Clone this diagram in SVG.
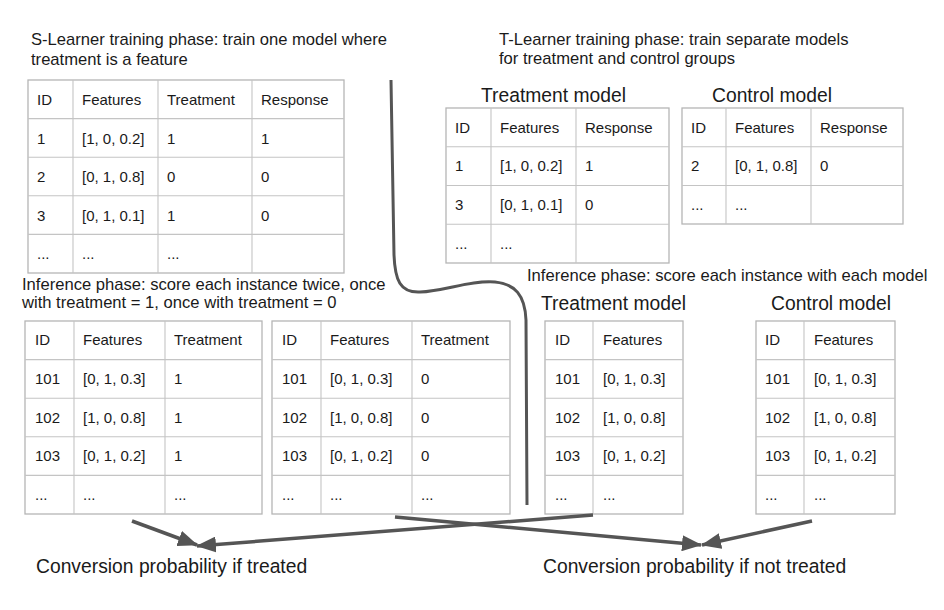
<svg xmlns="http://www.w3.org/2000/svg" width="944" height="610" viewBox="0 0 944 610">
<defs>
<style>
text{font-family:"Liberation Sans",Arial,sans-serif;fill:#1a1a1a}
.t{font-size:16.6px}
.c{font-size:15px}
.h{font-size:19.3px}
.tb{fill:none;stroke:#b5b5b5;stroke-width:1.3}
.ln{stroke:#c4c4c4;stroke-width:1.1}
.arr{fill:none;stroke:#555;stroke-width:3.5;marker-end:url(#ah)}
.crv{fill:none;stroke:#555;stroke-width:3}
</style>
<marker id="ah" markerUnits="userSpaceOnUse" markerWidth="20" markerHeight="16" viewBox="0 0 20 16" refX="19" refY="8" orient="auto">
<path d="M0,0 L20,8 L0,16 z" fill="#555"/>
</marker>
</defs>
<rect width="944" height="610" fill="#fff"/>

<g id="s-title">
<text class="t" x="31" y="45">S-Learner training phase: train one model where</text>
<text class="t" x="31" y="65">treatment is a feature</text>
</g>
<g id="t-title">
<text class="t" x="499" y="45">T-Learner training phase: train separate models</text>
<text class="t" x="499" y="64">for treatment and control groups</text>
</g>

<g id="s-train-table">
<rect class="tb" x="28" y="80" width="316" height="193"/>
<line class="ln" x1="73" y1="80" x2="73" y2="273"/>
<line class="ln" x1="158" y1="80" x2="158" y2="273"/>
<line class="ln" x1="252" y1="80" x2="252" y2="273"/>
<line class="ln" x1="28" y1="118.6" x2="344" y2="118.6"/>
<line class="ln" x1="28" y1="157.2" x2="344" y2="157.2"/>
<line class="ln" x1="28" y1="195.8" x2="344" y2="195.8"/>
<line class="ln" x1="28" y1="234.4" x2="344" y2="234.4"/>
<text class="c" x="37" y="105">ID</text><text class="c" x="82" y="105">Features</text><text class="c" x="167" y="105">Treatment</text><text class="c" x="261" y="105">Response</text>
<text class="c" x="37" y="144">1</text><text class="c" x="82" y="144">[1, 0, 0.2]</text><text class="c" x="167" y="144">1</text><text class="c" x="261" y="144">1</text>
<text class="c" x="37" y="182">2</text><text class="c" x="82" y="182">[0, 1, 0.8]</text><text class="c" x="167" y="182">0</text><text class="c" x="261" y="182">0</text>
<text class="c" x="37" y="221">3</text><text class="c" x="82" y="221">[0, 1, 0.1]</text><text class="c" x="167" y="221">1</text><text class="c" x="261" y="221">0</text>
<text class="c" x="37" y="259">...</text><text class="c" x="82" y="259">...</text><text class="c" x="167" y="259">...</text>
</g>

<g id="t-train-treatment">
<text class="h" x="481" y="102">Treatment model</text>
<rect class="tb" x="446" y="108" width="223" height="155"/>
<line class="ln" x1="491" y1="108" x2="491" y2="263"/>
<line class="ln" x1="576" y1="108" x2="576" y2="263"/>
<line class="ln" x1="446" y1="146.7" x2="669" y2="146.7"/>
<line class="ln" x1="446" y1="185.5" x2="669" y2="185.5"/>
<line class="ln" x1="446" y1="224.2" x2="669" y2="224.2"/>
<text class="c" x="455" y="133">ID</text><text class="c" x="500" y="133">Features</text><text class="c" x="585" y="133">Response</text>
<text class="c" x="455" y="171">1</text><text class="c" x="500" y="171">[1, 0, 0.2]</text><text class="c" x="585" y="171">1</text>
<text class="c" x="455" y="210">3</text><text class="c" x="500" y="210">[0, 1, 0.1]</text><text class="c" x="585" y="210">0</text>
<text class="c" x="455" y="249">...</text><text class="c" x="500" y="249">...</text>
</g>

<g id="t-train-control">
<text class="h" x="712" y="102">Control model</text>
<rect class="tb" x="682" y="108" width="221" height="116"/>
<line class="ln" x1="726" y1="108" x2="726" y2="224"/>
<line class="ln" x1="811" y1="108" x2="811" y2="224"/>
<line class="ln" x1="682" y1="146.7" x2="903" y2="146.7"/>
<line class="ln" x1="682" y1="185.5" x2="903" y2="185.5"/>
<text class="c" x="691" y="133">ID</text><text class="c" x="735" y="133">Features</text><text class="c" x="820" y="133">Response</text>
<text class="c" x="691" y="171">2</text><text class="c" x="735" y="171">[0, 1, 0.8]</text><text class="c" x="820" y="171">0</text>
<text class="c" x="691" y="210">...</text><text class="c" x="735" y="210">...</text>
</g>

<g id="s-infer-title">
<text class="t" x="22" y="290">Inference phase: score each instance twice, once</text>
<text class="t" x="22" y="308">with treatment = 1, once with treatment = 0</text>
</g>

<g id="s-infer-t1">
<rect class="tb" x="25" y="321" width="237" height="193"/>
<line class="ln" x1="74" y1="321" x2="74" y2="514"/>
<line class="ln" x1="165" y1="321" x2="165" y2="514"/>
<line class="ln" x1="25" y1="359.6" x2="262" y2="359.6"/>
<line class="ln" x1="25" y1="398.2" x2="262" y2="398.2"/>
<line class="ln" x1="25" y1="436.8" x2="262" y2="436.8"/>
<line class="ln" x1="25" y1="475.4" x2="262" y2="475.4"/>
<text class="c" x="35" y="345">ID</text><text class="c" x="83" y="345">Features</text><text class="c" x="174" y="345">Treatment</text>
<text class="c" x="35" y="384">101</text><text class="c" x="83" y="384">[0, 1, 0.3]</text><text class="c" x="174" y="384">1</text>
<text class="c" x="35" y="423">102</text><text class="c" x="83" y="423">[1, 0, 0.8]</text><text class="c" x="174" y="423">1</text>
<text class="c" x="35" y="461">103</text><text class="c" x="83" y="461">[0, 1, 0.2]</text><text class="c" x="174" y="461">1</text>
<text class="c" x="35" y="500">...</text><text class="c" x="83" y="500">...</text><text class="c" x="174" y="500">...</text>
</g>

<g id="s-infer-t0">
<rect class="tb" x="272" y="321" width="238" height="193"/>
<line class="ln" x1="321" y1="321" x2="321" y2="514"/>
<line class="ln" x1="412" y1="321" x2="412" y2="514"/>
<line class="ln" x1="272" y1="359.6" x2="510" y2="359.6"/>
<line class="ln" x1="272" y1="398.2" x2="510" y2="398.2"/>
<line class="ln" x1="272" y1="436.8" x2="510" y2="436.8"/>
<line class="ln" x1="272" y1="475.4" x2="510" y2="475.4"/>
<text class="c" x="282" y="345">ID</text><text class="c" x="330" y="345">Features</text><text class="c" x="421" y="345">Treatment</text>
<text class="c" x="282" y="384">101</text><text class="c" x="330" y="384">[0, 1, 0.3]</text><text class="c" x="421" y="384">0</text>
<text class="c" x="282" y="423">102</text><text class="c" x="330" y="423">[1, 0, 0.8]</text><text class="c" x="421" y="423">0</text>
<text class="c" x="282" y="461">103</text><text class="c" x="330" y="461">[0, 1, 0.2]</text><text class="c" x="421" y="461">0</text>
<text class="c" x="282" y="500">...</text><text class="c" x="330" y="500">...</text><text class="c" x="421" y="500">...</text>
</g>

<g id="t-infer-title">
<text class="t" x="527" y="281">Inference phase: score each instance with each model</text>
</g>

<g id="t-infer-treatment">
<text class="h" x="541" y="310">Treatment model</text>
<rect class="tb" x="545" y="321" width="138" height="193"/>
<line class="ln" x1="593" y1="321" x2="593" y2="514"/>
<line class="ln" x1="545" y1="359.6" x2="683" y2="359.6"/>
<line class="ln" x1="545" y1="398.2" x2="683" y2="398.2"/>
<line class="ln" x1="545" y1="436.8" x2="683" y2="436.8"/>
<line class="ln" x1="545" y1="475.4" x2="683" y2="475.4"/>
<text class="c" x="555" y="345">ID</text><text class="c" x="603" y="345">Features</text>
<text class="c" x="555" y="384">101</text><text class="c" x="603" y="384">[0, 1, 0.3]</text>
<text class="c" x="555" y="423">102</text><text class="c" x="603" y="423">[1, 0, 0.8]</text>
<text class="c" x="555" y="461">103</text><text class="c" x="603" y="461">[0, 1, 0.2]</text>
<text class="c" x="555" y="500">...</text><text class="c" x="603" y="500">...</text>
</g>

<g id="t-infer-control">
<text class="h" x="771" y="310">Control model</text>
<rect class="tb" x="756" y="321" width="139" height="193"/>
<line class="ln" x1="804" y1="321" x2="804" y2="514"/>
<line class="ln" x1="756" y1="359.6" x2="895" y2="359.6"/>
<line class="ln" x1="756" y1="398.2" x2="895" y2="398.2"/>
<line class="ln" x1="756" y1="436.8" x2="895" y2="436.8"/>
<line class="ln" x1="756" y1="475.4" x2="895" y2="475.4"/>
<text class="c" x="765" y="345">ID</text><text class="c" x="814" y="345">Features</text>
<text class="c" x="765" y="384">101</text><text class="c" x="814" y="384">[0, 1, 0.3]</text>
<text class="c" x="765" y="423">102</text><text class="c" x="814" y="423">[1, 0, 0.8]</text>
<text class="c" x="765" y="461">103</text><text class="c" x="814" y="461">[0, 1, 0.2]</text>
<text class="c" x="765" y="500">...</text><text class="c" x="814" y="500">...</text>
</g>

<g id="out-treated">
<text class="h" x="36" y="573">Conversion probability if treated</text>
</g>
<g id="out-not-treated">
<text class="h" x="543" y="573">Conversion probability if not treated</text>
</g>

<g id="connectors">
<path class="crv" d="M391,80 C392,150 393,220 394,255 C395,280 400,293 420,292 C445,291 470,280 495,282 C515,284 525,295 526,320 L527,505"/>
<line class="arr" x1="132" y1="521" x2="197" y2="545"/>
<line class="arr" x1="593" y1="515" x2="197" y2="546"/>
<line class="arr" x1="395" y1="517" x2="701" y2="545"/>
<line class="arr" x1="812" y1="521" x2="702" y2="545"/>
</g>
</svg>
